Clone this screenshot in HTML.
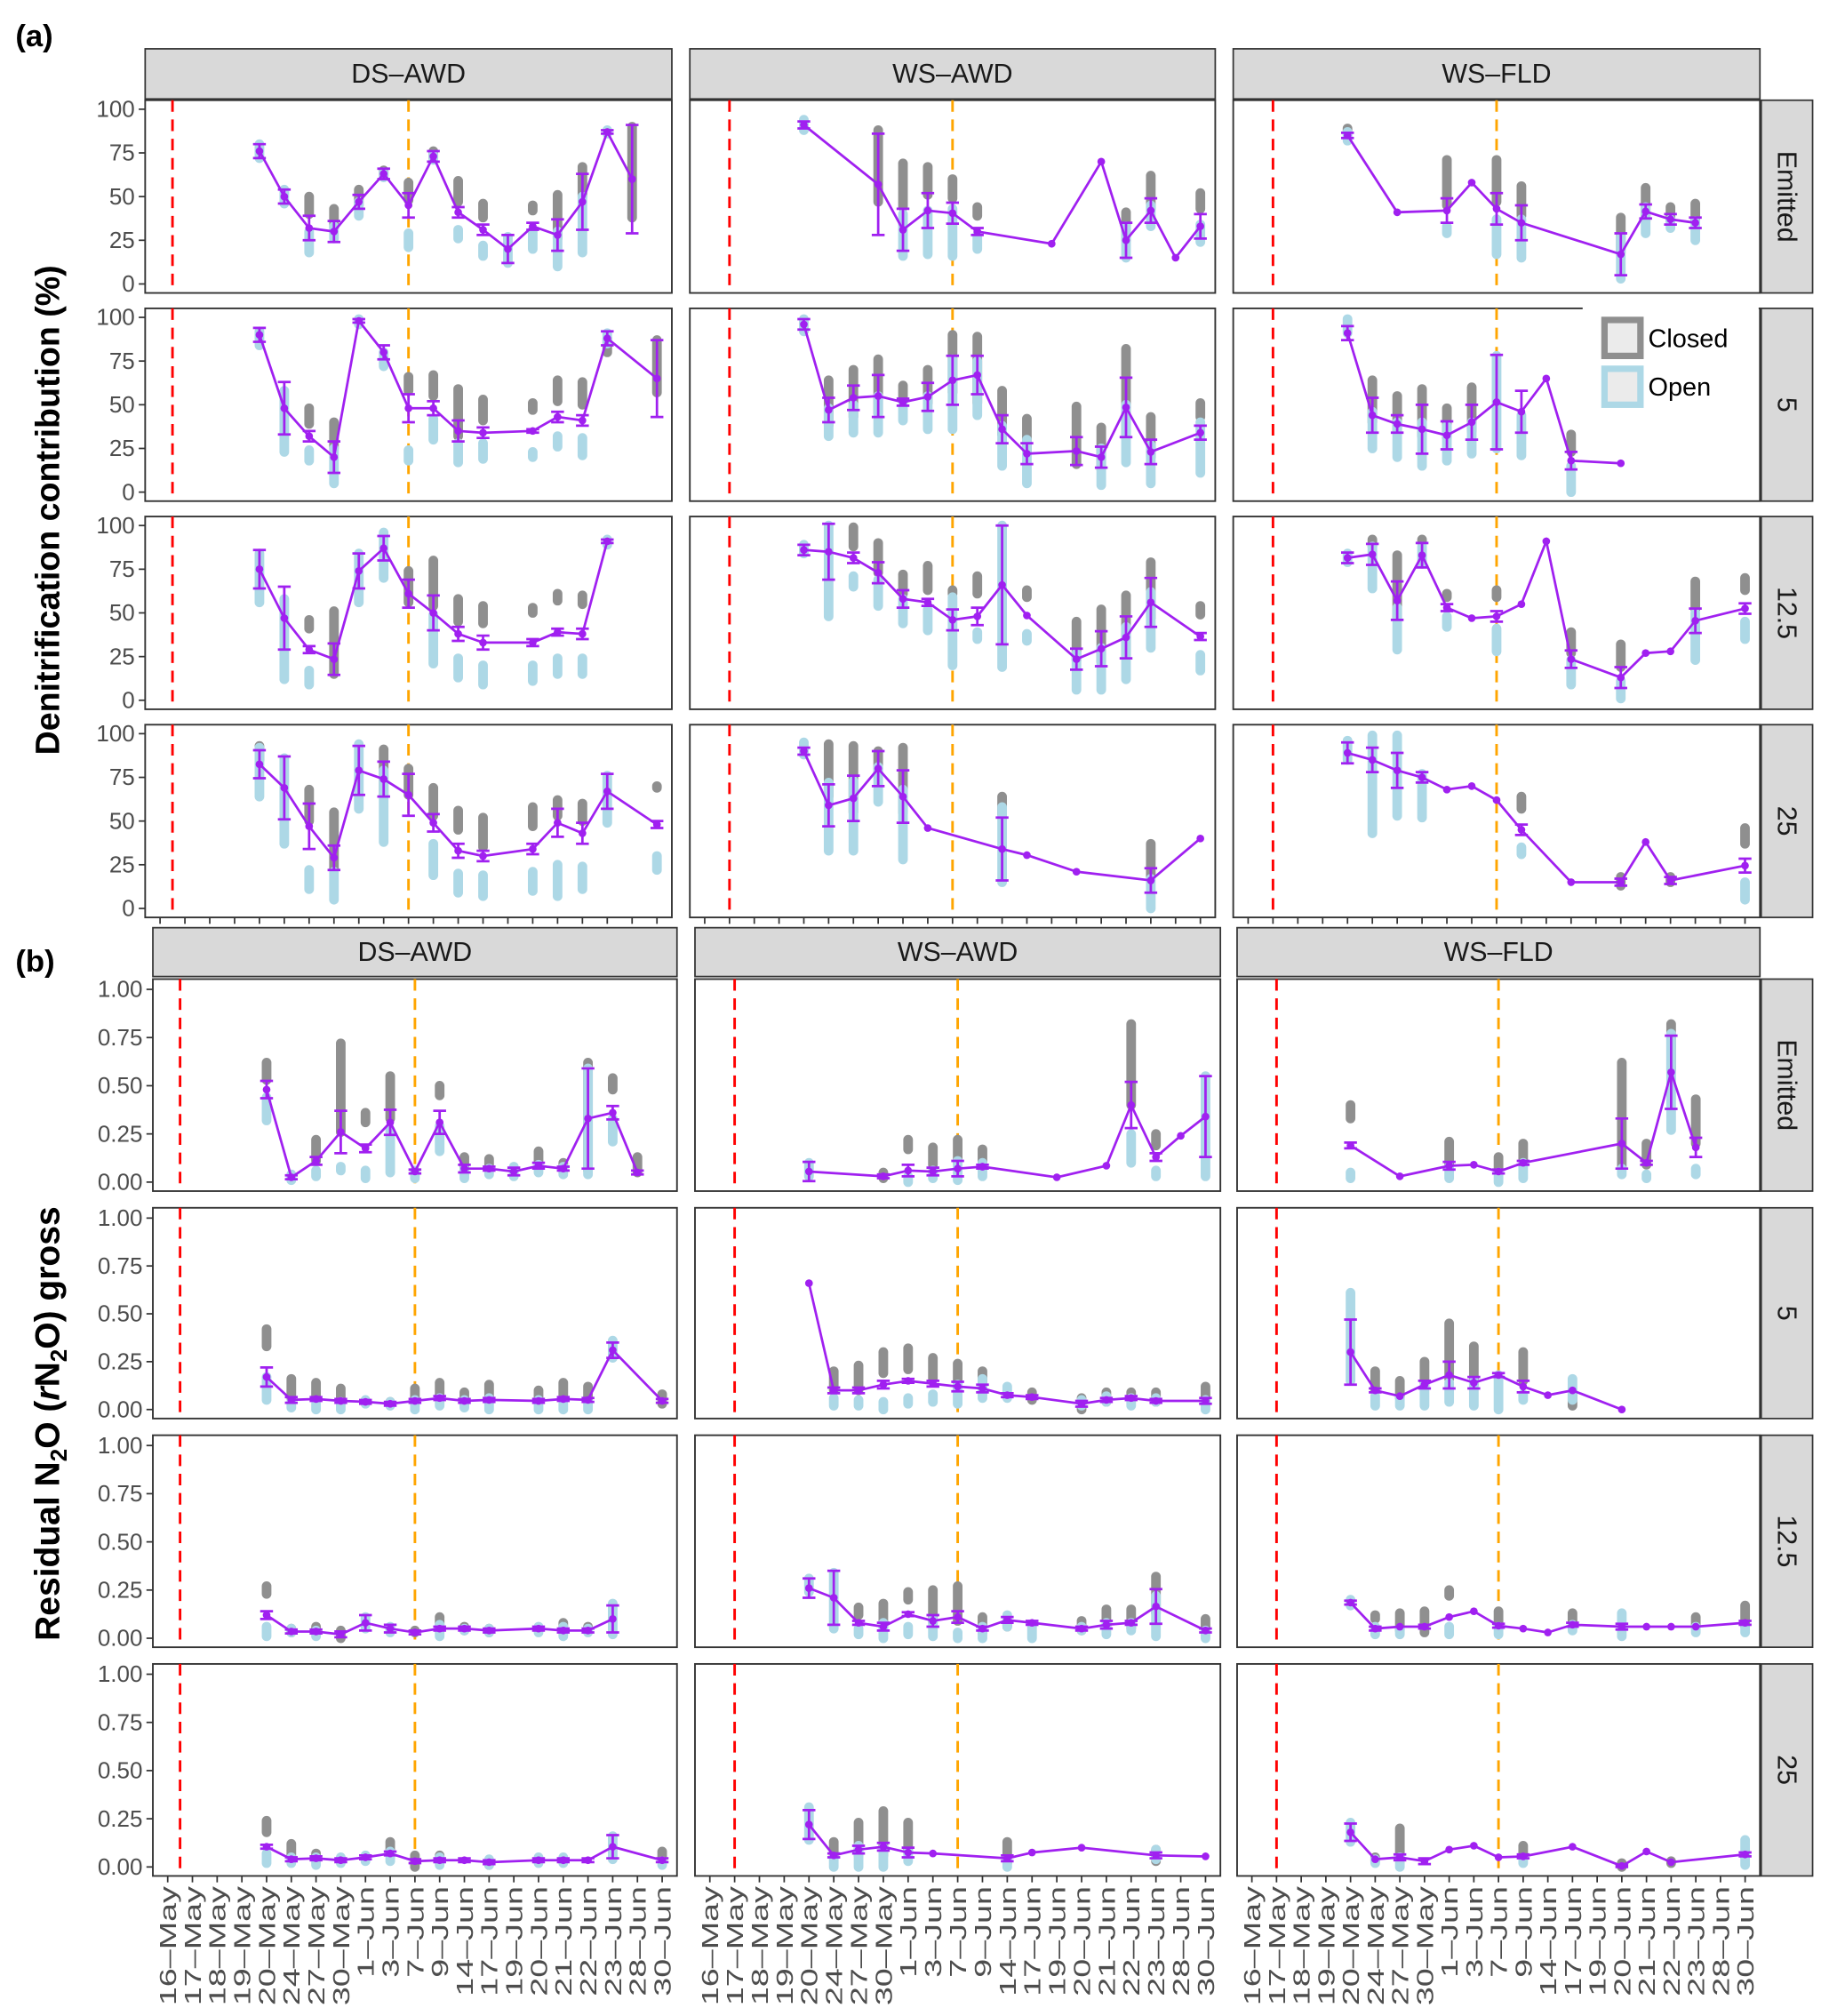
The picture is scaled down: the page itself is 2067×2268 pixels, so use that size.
<!DOCTYPE html>
<html><head><meta charset="utf-8"><style>
html,body{margin:0;padding:0;background:#fff;}
svg{display:block;font-family:"Liberation Sans",sans-serif;}
</style></head><body>
<svg id="chart" width="2067" height="2268" viewBox="0 0 1430 1569" preserveAspectRatio="none" xmlns="http://www.w3.org/2000/svg">
<text x="12" y="36" font-size="24" font-weight="bold">(a)</text>
<text x="12" y="756" font-size="24" font-weight="bold">(b)</text>
<text transform="translate(46,397) rotate(-90)" text-anchor="middle" font-size="26" font-weight="bold">Denitrification contribution (%)</text>
<text transform="translate(46,1108) rotate(-90)" text-anchor="middle" font-size="27" font-weight="bold">Residual N<tspan font-size="18" dy="6">2</tspan><tspan dy="-6">O (</tspan><tspan font-style="italic">r</tspan>N<tspan font-size="18" dy="6">2</tspan><tspan dy="-6">O) gross</tspan></text>
</svg>
<script>
const N = null;
const categories = ["16\u2013May","17\u2013May","18\u2013May","19\u2013May","20\u2013May","24\u2013May","27\u2013May","30\u2013May","1\u2013Jun","3\u2013Jun","7\u2013Jun","9\u2013Jun","14\u2013Jun","17\u2013Jun","19\u2013Jun","20\u2013Jun","21\u2013Jun","22\u2013Jun","23\u2013Jun","28\u2013Jun","30\u2013Jun"];
const firstSampled = 4; // series arrays below start at 20-May
const columns = ["DS\u2013AWD","WS\u2013AWD","WS\u2013FLD"];
const rowsLabels = ["Emitted","5","12.5","25"];
const redLineIdx = [0.5,1,1];
const orangeLineIdx = [10,10,10];
const ticksA = [0,25,50,75,100];
const tickLabelsA = ["0","25","50","75","100"];
const ticksB = [0,0.25,0.5,0.75,1];
const tickLabelsB = ["0.00","0.25","0.50","0.75","1.00"];

// ---- (a) DS-AWD
const a_ds_e_m=[76,50,32,30,47,63,45,73,41,31,20,33,28,47,87,60,N];
const a_ds_e_e=[4,4,7,6,4,3,7,3,3,3,8,2,9,16,1,31,0];
const a_ds_e_c=[N,N,[40,50],[32,43],[45,54],[62,65],[48,58],[72,76],[47,59],[38,46],N,[42,45],[26,51],[50,67],N,[38,90],N];
const a_ds_e_o=[[72,80],[46,54],[18,30],[26,33],[39,47],[61,64],[21,29],[71,74],[26,31],[16,22],[12,27],[20,31],[10,30],[18,50],[86,88],N,N];
const a_ds_5_m=[90,48,32,20,98,80,48,48,35,34,N,35,43,41,88,N,65];
const a_ds_5_e=[4,15,3,9,1,4,8,4,6,3,0,1,3,3,4,0,22];
const a_ds_5_c=[N,N,[39,48],[25,40],N,N,[58,66],[55,67],[32,59],[41,53],N,[47,51],[52,64],[50,63],[80,88],N,[57,87]];
const a_ds_5_o=[[84,92],[23,58],[18,24],[5,25],[96,99],[72,80],[18,24],[30,42],[17,28],[19,28],N,[20,23],[26,32],[21,31],[85,91],N,N];
const a_ds_12_m=[75,47,29,23.5,74,87,61,50,38,33,N,33,39,38,91,N,N];
const a_ds_12_e=[11,18,2,9,10,7,8,10,4,4,0,2,2,3,1,0,0];
const a_ds_12_c=[N,N,[41,46],[15,51],N,N,[56,74],[54,80],[45,58],[44,54],N,[50,53],[57,61],[55,60],N,N,N];
const a_ds_12_o=[[56,84],[12,58],[9,17],N,[56,84],[70,96],N,[21,49],[13,24],[9,20],N,[11,20],[15,24],[15,24],[89,92],N,N];
const a_ds_25_m=[82.5,69,47,29,79,74,65,49,33,30,N,34,49,43,67,N,48];
const a_ds_25_e=[8,18,13,7,14,10,12,5,4,3,0,3,8,6,10,0,2];
const a_ds_25_c=[[85,93],N,[50,68],[23,55],N,[64,91],[65,80],[53,69],[45,56],[35,52],N,[47,58],[53,62],[50,60],N,N,[69,70]];
const a_ds_25_o=[[64,92],[37,86],[11,22],[5,21],[57,94],[38,79],N,[19,37],[9,20],[7,19],N,[10,21],[7,25],[11,24],[49,76],N,[22,30]];
// ---- (a) WS-AWD
const a_ws_e_m=[91,N,N,57,31,42,40.5,30,N,N,23,N,70,25,42,15,33];
const a_ws_e_e=[2,0,0,29,12,10,6,2,0,0,0,0,0,10,7,0,7];
const a_ws_e_c=[N,N,N,[47,88],[44,69],[51,67],[49,60],[39,44],N,N,N,N,N,[25,41],[43,62],N,[43,52]];
const a_ws_e_o=[[88,94],N,N,N,[16,40],[17,42],[16,43],[20,28],N,N,N,N,N,[15,33],[33,45],N,[24,34]];
const a_ws_5_m=[96,47,54,55,51.5,54.5,64,67,36,22,N,23.5,20,48.5,23,N,34];
const a_ws_5_e=[3,7,7,12,2,8,14,11,8,6,0,8,6,17,7,0,4];
const a_ws_5_c=[N,[38,64],[43,70],[45,76],[52,61],[51,70],[57,90],[51,89],[33,58],[23,42],N,[16,49],[13,37],[31,82],[20,43],N,[43,51]];
const a_ws_5_o=[[92,99],[32,48],[34,50],[34,55],[41,50],[36,55],[36,76],[44,75],[15,38],[5,30],N,N,[4,25],[17,50],[5,27],N,[11,40]];
const a_ws_12_m=[86,85,81.5,73,58,56,46,48,66,48.5,N,23.5,29.5,36,56,N,36.5];
const a_ws_12_e=[3,16,3,6,5,2,6,5,34,0,0,6,10,12,14,0,2];
const a_ws_12_c=[N,N,[88,99],[73,90],[61,72],[63,77],[61,63],[61,71],N,[59,63],N,[23,45],[22,52],[26,60],[47,79],N,[49,54]];
const a_ws_12_o=[[84,89],[48,100],[65,71],[54,69],[44,58],[40,52],[20,59],[35,39],[19,100],[34,38],N,[6,27],[6,30],[12,42],[30,62],N,[17,26]];
const a_ws_25_m=[90,59,63,80,64,46,N,N,34,30.5,N,21,N,N,16,N,40];
const a_ws_25_e=[2,12,13,10,15,0,0,0,18,0,0,0,0,0,7,0,0];
const a_ws_25_c=[N,[64,94],[55,93],[78,90],[55,92],N,N,N,[54,64],N,N,N,N,N,[18,37],N,N];
const a_ws_25_o=[[88,95],[33,72],[33,73],[61,81],[28,68],N,N,N,[15,58],N,N,N,N,N,[0,17],N,N];
// ---- (a) WS-FLD
const a_fl_e_m=[85,N,41,N,42,58,43,35,N,N,N,17,41.5,37,35,N,N];
const a_fl_e_e=[1.5,0,0,0,7,0,9,10,0,0,0,12,4,3,3,0,0];
const a_fl_e_c=[[86,89],N,N,N,[45,71],N,[47,71],[39,56],N,N,N,[18,38],[36,55],[36,44],[36,46],N,N];
const a_fl_e_o=[[82,87],N,N,N,[29,33],N,[17,37],[15,37],N,N,N,[3,27],[29,44],[32,37],[25,36],N,N];
const a_fl_5_m=[91,44,39,36,32.5,40,51.5,46,65,18,N,16.5,N,N,N,N,N];
const a_fl_5_e=[4,10,5,14,8,10,27,12,0,5,0,0,0,0,0,0,0];
const a_fl_5_c=[N,[40,64],[35,55],[32,59],[31,48],[35,60],N,N,N,[23,33],N,N,N,N,N,N,N];
const a_fl_5_o=[[91,99],[25,46],[20,40],[15,40],[18,38],[22,40],[25,78],[21,44],N,[0,15],N,N,N,N,N,N,N];
const a_fl_12_m=[81.5,83.5,57,83,53,47,48,55,91,23.5,N,13,27,28,45.5,N,52.5];
const a_fl_12_e=[3,6,11,7,2,0,3,0,0,5,0,6,0,0,7,0,3];
const a_fl_12_c=[N,[88,92],[46,83],[90,92],[59,61],N,[59,63],N,N,[27,39],N,[19,32],N,N,[52,68],N,[63,70]];
const a_fl_12_o=[[79,84],[64,88],[29,53],[78,88],[42,48],N,[28,41],N,N,[9,23],N,[1,11],N,N,[23,50],N,[35,45]];
const a_fl_25_m=[89,85,79,75,68,70,62,45,N,15,N,15,38,16,N,N,24.5];
const a_fl_25_e=[6,7,10,3,0,0,0,3,0,0,0,2,0,2,0,0,4];
const a_fl_25_c=[N,N,N,N,N,N,N,[57,64],N,N,N,[13,18],N,[15,18],N,N,[37,46]];
const a_fl_25_o=[[85,96],[43,99],[53,99],[52,77],N,N,N,[31,35],N,N,N,N,N,N,N,N,[5,15]];
// ---- (b) DS-AWD
const b_ds_e_m=[.48,.025,.11,.26,.175,.31,.055,.31,.07,.07,.055,.085,.07,.33,.36,.05,N];
const b_ds_e_e=[.045,.01,.02,.11,.02,.065,.01,.06,.02,.01,.02,.015,.01,.26,.035,.01,0];
const b_ds_e_c=[[.53,.62],N,[.11,.22],[.26,.72],[.31,.36],[.33,.55],N,[.45,.50],[.06,.13],[.08,.12],[.06,.07],[.08,.16],[.06,.1],[.06,.62],[.48,.54],[.05,.13],N];
const b_ds_e_o=[[.32,.44],[.01,.04],[.03,.06],[.06,.08],[.02,.06],[.05,.27],[.02,.06],[.16,.29],[.02,.07],[.04,.07],[.03,.08],[.05,.09],[.04,.08],[.04,.59],[.21,.33],N,N];
const b_ds_5_m=[.17,.05,.055,.045,.04,.03,.045,.06,.045,.05,N,.045,.055,.05,.31,N,.045];
const b_ds_5_e=[.05,.015,.01,.01,.01,.01,.01,.01,.01,.01,0,.01,.01,.01,.04,0,.01];
const b_ds_5_c=[[.33,.42],[.06,.16],[.06,.14],[.04,.11],N,[.03,.04],[.04,.11],[.06,.14],[.04,.09],[.05,.13],N,[.05,.1],[.06,.14],[.05,.12],N,N,[.03,.08]];
const b_ds_5_o=[[.05,.17],[.01,.04],[0,.03],[0,.04],[.03,.05],[.02,.04],[0,.05],[.02,.06],[.01,.05],[0,.06],N,[0,.05],[0,.03],[0,.04],[.27,.36],N,N];
const b_ds_12_m=[.12,.035,.035,.02,.08,.05,.03,.05,.05,.04,N,.05,.04,.04,.10,N,N];
const b_ds_12_e=[.02,.01,.01,.015,.04,.02,.01,.01,.01,.01,0,.01,.01,.01,.07,0,0];
const b_ds_12_c=[[.23,.27],[.03,.05],[.03,.06],[0,.04],N,N,[.03,.04],[.05,.11],[.04,.06],[.03,.05],N,N,[.04,.08],[.04,.06],N,N,N];
const b_ds_12_o=[[.01,.06],[.03,.05],[.01,.04],N,[.05,.11],[.03,.06],N,[.01,.07],[.04,.05],[.03,.05],N,[.03,.06],[.01,.06],[.03,.05],[.02,.18],N,N];
const b_ds_25_m=[.105,.04,.045,.035,.05,.07,.03,.035,.035,.025,N,.035,.035,.035,.105,N,.035];
const b_ds_25_e=[.01,.01,.01,.01,.01,.01,.01,.01,.01,.01,0,.01,.01,.01,.06,0,.01];
const b_ds_25_c=[[.18,.24],[.04,.12],[.04,.07],N,N,[.08,.13],[0,.06],[.03,.06],N,[.01,.03],N,N,N,N,N,N,[.03,.08]];
const b_ds_25_o=[[.02,.07],[.02,.05],[.01,.05],[.02,.05],[.03,.06],[.03,.08],N,[.01,.05],N,[.01,.04],N,[.02,.05],[.02,.05],N,[.04,.16],N,[.01,.03]];
// ---- (b) WS-AWD
const b_ws_e_m=[.055,N,N,.03,.06,.055,.07,.08,N,N,.025,N,.085,.40,.13,.24,.34];
const b_ws_e_e=[.05,0,0,.01,.03,.02,.04,.01,0,0,0,0,0,.12,.02,0,.21];
const b_ws_e_c=[N,N,N,[.02,.05],[.17,.22],[.09,.18],[.1,.22],[.08,.17],N,N,N,N,N,[.4,.82],[.19,.25],N,N];
const b_ws_e_o=[[.03,.1],N,N,N,[0,.03],[.02,.06],[.01,.11],[.03,.1],N,N,N,N,N,[.1,.25],[.03,.06],N,[.03,.55]];
const b_ws_5_m=[.66,.1,.1,.13,.15,.135,.12,.11,.075,.065,N,.03,.05,.06,.045,N,.045];
const b_ws_5_e=[0,.015,.015,.02,.01,.015,.025,.02,.01,.01,0,.015,.01,.01,.01,0,.015];
const b_ws_5_c=[N,[.1,.2],[.1,.23],[.19,.3],[.21,.32],[.16,.27],[.1,.24],[.1,.2],N,[.05,.09],N,[0,.06],[.04,.09],[.05,.09],[.04,.09],N,[.03,.12]];
const b_ws_5_o=[N,[.02,.06],[.02,.05],[0,.04],[.03,.06],[.04,.08],[.03,.13],[.06,.16],[.06,.12],N,N,[.02,.05],[.04,.07],[.02,.06],[.04,.06],N,[0,.05]];
const b_ws_12_m=[.26,.21,.08,.06,.125,.09,.11,.05,.095,.08,N,.05,.07,.08,.165,N,.04];
const b_ws_12_e=[.05,.14,.01,.02,.01,.03,.03,.01,.015,.01,0,.01,.02,.01,.09,0,.01];
const b_ws_12_c=[N,N,[.12,.16],[.06,.18],[.2,.24],[.08,.25],[.09,.27],[.03,.11],[.06,.1],N,N,[.04,.09],[.06,.15],[.05,.15],[.13,.32],N,[.04,.1]];
const b_ws_12_o=[[.24,.31],[.05,.34],[.02,.05],[0,.08],[.02,.06],[.01,.1],[0,.03],[0,.06],[.06,.12],[0,.07],N,[.04,.06],[.02,.08],[.04,.08],[.01,.22],N,[0,.04]];
const b_ws_25_m=[.22,.06,.09,.105,.075,.07,N,N,.045,.075,N,.1,N,N,.06,N,.055];
const b_ws_25_e=[.075,.01,.02,.02,.025,0,0,0,.015,0,0,0,0,0,.015,0,0];
const b_ws_25_c=[N,[.05,.13],[.06,.23],[.06,.29],[.07,.23],N,N,N,[.02,.13],N,N,N,N,N,[.03,.09],N,N];
const b_ws_25_o=[[.14,.31],[0,.05],[0,.11],[0,.1],[.03,.08],N,N,N,[0,.04],N,N,N,N,N,[.04,.09],N,N];
// ---- (b) WS-FLD
const b_fl_e_m=[.19,N,.03,N,.085,.09,.055,.1,N,N,N,.2,.1,.57,.18,N,N];
const b_fl_e_e=[.015,0,0,0,.02,0,.01,.01,0,0,0,.13,.01,.19,.05,0,0];
const b_fl_e_c=[[.33,.4],N,N,N,[.09,.21],N,[.05,.13],[.1,.2],N,N,N,[.07,.62],[.09,.2],[.58,.82],[.2,.43],N,N];
const b_fl_e_o=[[.02,.05],N,N,N,[.02,.08],N,[0,.05],[.02,.1],N,N,N,[.04,.07],[.02,.04],[.27,.77],[.04,.07],N,N];
const b_fl_5_m=[.30,.1,.07,.13,.18,.14,.18,.12,.075,.1,N,0,N,N,N,N,N];
const b_fl_5_e=[.17,.01,0,.02,.07,.03,.01,.03,0,0,0,0,0,0,0,0,0];
const b_fl_5_c=[N,[.1,.2],[.06,.15],[.11,.25],[.16,.45],[.13,.33],N,[.15,.3],N,[.02,.09],N,N,N,N,N,N,N];
const b_fl_5_o=[[.15,.61],[.02,.07],[.02,.06],[.02,.13],[.04,.14],[.02,.15],[0,.18],[.05,.08],N,[.05,.16],N,N,N,N,N,N,N];
const b_fl_12_m=[.185,.05,.06,.06,.11,.14,.065,.05,.03,.07,N,.06,.06,.06,.06,N,.08];
const b_fl_12_e=[.01,.01,0,.01,0,0,.01,0,0,.01,0,.015,0,0,0,0,.01];
const b_fl_12_c=[N,[.1,.12],[.04,.13],[.03,.14],[.22,.25],N,[.06,.14],N,N,[.06,.13],N,N,N,N,[.06,.11],N,[.06,.17]];
const b_fl_12_o=[[.17,.2],[.02,.06],[.02,.05],N,[.02,.06],N,[.02,.06],N,N,[.04,.07],N,[.01,.13],N,N,[.03,.06],N,[.03,.06]];
const b_fl_25_m=[.18,.04,.05,.03,.09,.11,.05,.055,N,.105,N,.005,.08,.025,N,N,.065];
const b_fl_25_e=[.045,0,.015,.015,0,0,0,.01,0,0,0,.005,0,0,0,0,.01];
const b_fl_25_c=[N,[.03,.05],[.04,.2],N,N,N,N,[.04,.11],N,N,N,[0,.02],N,[.02,.03],N,N,[.05,.07]];
const b_fl_25_o=[[.13,.23],[.02,.04],[0,.05],N,N,N,N,[.02,.04],N,N,N,N,N,N,N,N,[.01,.14]];

const seriesA=[[ [a_ds_e_m,a_ds_e_e,a_ds_e_c,a_ds_e_o],[a_ws_e_m,a_ws_e_e,a_ws_e_c,a_ws_e_o],[a_fl_e_m,a_fl_e_e,a_fl_e_c,a_fl_e_o] ],
 [ [a_ds_5_m,a_ds_5_e,a_ds_5_c,a_ds_5_o],[a_ws_5_m,a_ws_5_e,a_ws_5_c,a_ws_5_o],[a_fl_5_m,a_fl_5_e,a_fl_5_c,a_fl_5_o] ],
 [ [a_ds_12_m,a_ds_12_e,a_ds_12_c,a_ds_12_o],[a_ws_12_m,a_ws_12_e,a_ws_12_c,a_ws_12_o],[a_fl_12_m,a_fl_12_e,a_fl_12_c,a_fl_12_o] ],
 [ [a_ds_25_m,a_ds_25_e,a_ds_25_c,a_ds_25_o],[a_ws_25_m,a_ws_25_e,a_ws_25_c,a_ws_25_o],[a_fl_25_m,a_fl_25_e,a_fl_25_c,a_fl_25_o] ]];
const seriesB=[[ [b_ds_e_m,b_ds_e_e,b_ds_e_c,b_ds_e_o],[b_ws_e_m,b_ws_e_e,b_ws_e_c,b_ws_e_o],[b_fl_e_m,b_fl_e_e,b_fl_e_c,b_fl_e_o] ],
 [ [b_ds_5_m,b_ds_5_e,b_ds_5_c,b_ds_5_o],[b_ws_5_m,b_ws_5_e,b_ws_5_c,b_ws_5_o],[b_fl_5_m,b_fl_5_e,b_fl_5_c,b_fl_5_o] ],
 [ [b_ds_12_m,b_ds_12_e,b_ds_12_c,b_ds_12_o],[b_ws_12_m,b_ws_12_e,b_ws_12_c,b_ws_12_o],[b_fl_12_m,b_fl_12_e,b_fl_12_c,b_fl_12_o] ],
 [ [b_ds_25_m,b_ds_25_e,b_ds_25_c,b_ds_25_o],[b_ws_25_m,b_ws_25_e,b_ws_25_c,b_ws_25_o],[b_fl_25_m,b_fl_25_e,b_fl_25_c,b_fl_25_o] ]];

const svg=document.getElementById('chart');
const NS='http://www.w3.org/2000/svg';
function mk(tag,attrs,parent){const e=document.createElementNS(NS,tag);for(const k in attrs)e.setAttribute(k,attrs[k]);(parent||svg).appendChild(e);return e;}

const sections=[
 {key:'a',cols:[[113,523],[537,946],[960,1370]],rows:[[78,228],[240,390],[402,552],[564,714]],strip:[38,77],
  vmax:100,topPad:7,botPad:7,ticks:ticksA,labels:tickLabelsA,data:seriesA,xlabels:false},
 {key:'b',cols:[[119,527],[541,950],[963,1370]],rows:[[762,927],[940,1104],[1117,1282],[1295,1460]],strip:[722,760],
  vmax:1,topPad:8,botPad:7,ticks:ticksB,labels:tickLabelsB,data:seriesB,xlabels:true}
];

sections.forEach(sec=>{
  sec.cols.forEach((c,ci)=>{
    const s=mk('rect',{x:c[0],y:sec.strip[0],width:c[1]-c[0],height:sec.strip[1]-sec.strip[0],fill:'#d9d9d9',stroke:'#333',"stroke-width":1.2});
    
    
    const t=mk('text',{x:(c[0]+c[1])/2,y:(sec.strip[0]+sec.strip[1])/2+7,'text-anchor':'middle','font-size':21,fill:'#1a1a1a'});
    t.textContent=columns[ci];
    
    
  });
  sec.rows.forEach((r,ri)=>{
    const lastCol=sec.cols[2];
    const rs=mk('rect',{x:lastCol[1]+1,y:r[0],width:40,height:r[1]-r[0],fill:'#d9d9d9',stroke:'#333',"stroke-width":1.2});
    
    
    const rt=mk('text',{transform:'translate('+(lastCol[1]+14)+','+((r[0]+r[1])/2)+') rotate(90)','text-anchor':'middle','font-size':21,fill:'#1a1a1a'});
    rt.textContent=rowsLabels[ri];
    
    
    const y0=r[1]-sec.botPad, y1=r[0]+sec.topPad;
    const yS=v=>y0-(v/sec.vmax)*(y0-y1);
    sec.cols.forEach((c,ci)=>{
      const xS=i=>c[0]+(i+0.6)/21.2*(c[1]-c[0]);
      const g=mk('g',{});
      
      
      mk('rect',{x:c[0],y:r[0],width:c[1]-c[0],height:r[1]-r[0],fill:'#fff',stroke:'#333',"stroke-width":1.3},g);
      if(ci===0){
        sec.ticks.forEach((tv,ti)=>{
          mk('line',{x1:c[0]-5,x2:c[0],y1:yS(tv),y2:yS(tv),stroke:'#333',"stroke-width":1.2});
          const tl=mk('text',{x:c[0]-8,y:yS(tv)+6,'text-anchor':'end','font-size':18,fill:'#4d4d4d'});
          tl.textContent=sec.labels[ti];
          
          
        });
      }
      const rl=mk('line',{x1:xS(redLineIdx[ci]),x2:xS(redLineIdx[ci]),y1:r[0],y2:r[1],stroke:'#ff0000',"stroke-width":2,"stroke-dasharray":'9,6'},g);
      
      
      const ol=mk('line',{x1:xS(orangeLineIdx[ci]),x2:xS(orangeLineIdx[ci]),y1:r[0],y2:r[1],stroke:'#ffa500',"stroke-width":2,"stroke-dasharray":'9,6'},g);
      
      
      const [m,e,cl,op]=sec.data[ri][ci];
      const get=(arr,i)=>{const k=i-firstSampled;return (k>=0&&k<arr.length)?arr[k]:null;};
      for(let i=0;i<21;i++){const v=get(cl,i);if(!v)continue;
        const s=mk('line',{x1:xS(i),x2:xS(i),y1:yS(v[0]),y2:yS(v[1]),stroke:'#8f8f8f',"stroke-width":7.5,"stroke-linecap":'round'},g);
        
        }
      for(let i=0;i<21;i++){const v=get(op,i);if(!v)continue;
        const s=mk('line',{x1:xS(i),x2:xS(i),y1:yS(v[0]),y2:yS(v[1]),stroke:'#add8e6',"stroke-width":7.5,"stroke-linecap":'round'},g);
        
        }
      let pts=[];
      for(let i=0;i<21;i++){const v=get(m,i);if(v===null||v===undefined)continue;pts.push(xS(i).toFixed(1)+','+yS(v).toFixed(1));}
      const pl=mk('polyline',{points:pts.join(' '),fill:'none',stroke:'#a020f0',"stroke-width":1.9},g);
      
      
      for(let i=0;i<21;i++){const v=get(m,i);if(v===null||v===undefined)continue;
        const ev=get(e,i)||0;const x=xS(i);
        if(ev>0){
          const lo=yS(Math.max(v-ev,0)),hi=yS(v+ev);
          const eb=mk('path',{d:'M'+(x-5)+','+hi+'H'+(x+5)+'M'+x+','+hi+'V'+lo+'M'+(x-5)+','+lo+'H'+(x+5),stroke:'#a020f0',"stroke-width":1.9,fill:'none'},g);
          
          
        }
        const p=mk('circle',{cx:x,cy:yS(v),r:3,fill:'#a020f0'},g);
        
        
      }
      if(ri===3){
        for(let i=0;i<21;i++){
          mk('line',{x1:xS(i),x2:xS(i),y1:r[1],y2:r[1]+5,stroke:'#333',"stroke-width":1.2});
          if(sec.xlabels){
            const xl=mk('text',{transform:'translate('+(xS(i)+6.5)+','+(r[1]+8)+') rotate(-90) scale(1.45,1)','text-anchor':'end','font-size':18,fill:'#4d4d4d'});
            xl.textContent=categories[i];
            
            
          }
        }
      }
    });
  });
});
const lg=mk('g',{});


mk('rect',{x:1232,y:236,width:137,height:88,fill:'#fff'},lg);
const k1=mk('rect',{x:1249,y:249,width:28,height:28,fill:'#ebebeb',stroke:'#8f8f8f',"stroke-width":5},lg);


const k2=mk('rect',{x:1249,y:287,width:28,height:28,fill:'#ebebeb',stroke:'#add8e6',"stroke-width":5},lg);


const t1=mk('text',{x:1283,y:270,'font-size':20,fill:'#000'},lg);t1.textContent='Closed';


const t2=mk('text',{x:1283,y:308,'font-size':20,fill:'#000'},lg);t2.textContent='Open';


</script>
</body></html>
